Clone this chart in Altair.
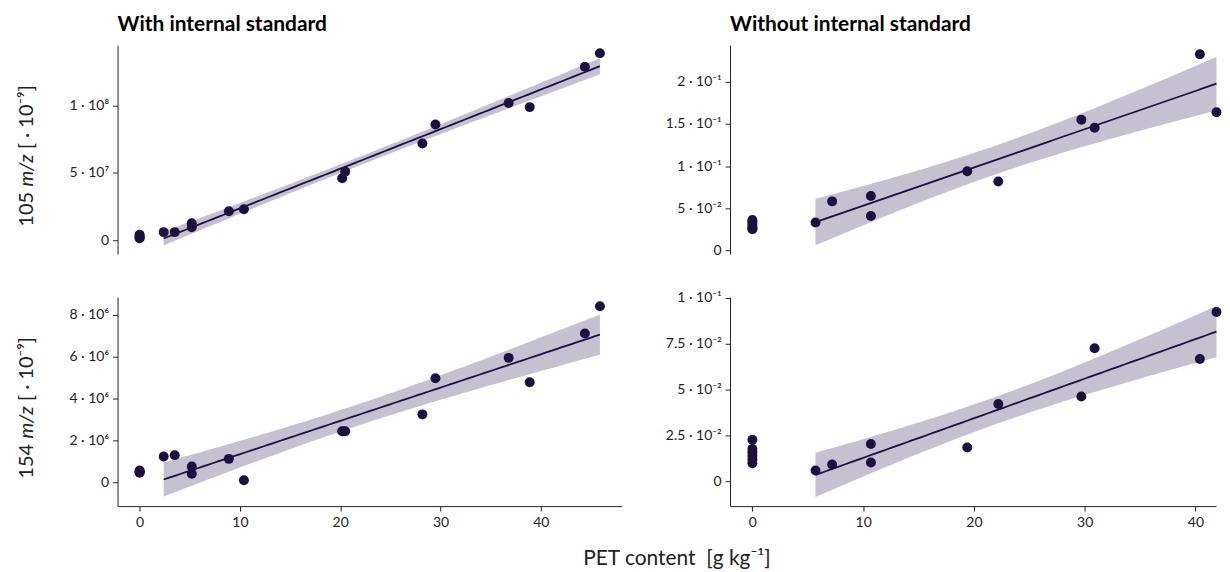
import altair as alt
import numpy as np
import pandas as pd

FONT = "Lato"
INK = "#1c1040"
BAND = "#c5c1d1"
AXIS = "#222222"

# ---- data ----
left_x = [0, 0, 0, 0, 2.4, 3.5, 5.2, 5.2, 8.9, 10.4, 20.2, 20.5, 28.2, 29.5, 36.8, 38.9, 44.4, 45.9]
with_is_105 = [4.0e6, 3.0e6, 2.0e6, 1.5e6, 6.0e6, 6.0e6, 1.26e7, 9.6e6, 2.15e7, 2.3e7,
               4.6e7, 5.1e7, 7.2e7, 8.6e7, 1.02e8, 9.9e7, 1.29e8, 1.39e8]
with_is_154 = [5.8e5, 5.2e5, 4.7e5, 5.0e5, 1.24e6, 1.30e6, 7.7e5, 4.2e5, 1.13e6, 1.1e5,
               2.45e6, 2.45e6, 3.25e6, 4.97e6, 5.94e6, 4.78e6, 7.10e6, 8.40e6]

right_x = [0, 0, 0, 0, 0, 0, 5.7, 7.2, 10.7, 10.7, 19.4, 22.2, 29.7, 30.9, 40.4, 41.9]
without_is_105 = [0.036, 0.034, 0.031, 0.028, 0.026, 0.025, 0.0328, 0.058, 0.0643, 0.0406,
                  0.0939, 0.0817, 0.155, 0.1456, 0.2328, 0.164]
without_is_154 = [0.0227, 0.0177, 0.0158, 0.0140, 0.0119, 0.0099, 0.0059, 0.0092, 0.0204, 0.0103,
                  0.0184, 0.0422, 0.0463, 0.0726, 0.0667, 0.0923]

NB = "\u00a0"
panel_titles = ["With internal standard", "Without internal standard"]
y_title_105 = ["105", "m/z", "[" + NB + "·" + NB + "10⁻⁹]"]
y_title_154 = ["154", "m/z", "[" + NB + "·" + NB + "10⁻⁹]"]
x_title = "PET content" + NB + NB + "[g" + NB + "kg⁻¹]"

x_ticks = [0, 10, 20, 30, 40]
tl_ticks = [0, 5e7, 1e8]
tl_labels = ["0", "5 · 10⁷", "1 · 10⁸"]
bl_ticks = [0, 2e6, 4e6, 6e6, 8e6]
bl_labels = ["0", "2 · 10⁶", "4 · 10⁶", "6 · 10⁶", "8 · 10⁶"]
tr_ticks = [0, 0.05, 0.1, 0.15, 0.2]
tr_labels = ["0", "5 · 10⁻²", "1 · 10⁻¹", "1.5 · 10⁻¹", "2 · 10⁻¹"]
br_ticks = [0, 0.025, 0.05, 0.075, 0.1]
br_labels = ["0", "2.5 · 10⁻²", "5 · 10⁻²", "7.5 · 10⁻²", "1 · 10⁻¹"]

T95 = {6: 2.447, 7: 2.365, 8: 2.306, 9: 2.262, 10: 2.228, 11: 2.201, 12: 2.179,
       13: 2.160, 14: 2.145, 15: 2.131, 16: 2.120}


def fit_band(x, y, n_pts=80):
    x = np.asarray(x, dtype=float)
    y = np.asarray(y, dtype=float)
    m = x > 0
    xf, yf = x[m], y[m]
    n = len(xf)
    b, a = np.polyfit(xf, yf, 1)
    res = yf - (a + b * xf)
    s = np.sqrt((res ** 2).sum() / (n - 2))
    sxx = ((xf - xf.mean()) ** 2).sum()
    gx = np.linspace(xf.min(), xf.max(), n_pts)
    yh = a + b * gx
    se = s * np.sqrt(1.0 / n + (gx - xf.mean()) ** 2 / sxx)
    t = T95.get(n - 2, 2.0)
    return pd.DataFrame({"x": gx, "fit": yh, "lo": yh - t * se, "hi": yh + t * se})


def label_expr(vals, labs):
    parts = []
    for v, l in zip(vals, labs):
        tol = abs(v) * 1e-6 + 1e-12
        parts.append(f"abs(datum.value - ({v!r})) < {tol!r} ? '{l}'")
    return " : ".join(parts) + " : ''"


def panel(x, y, xdom, ydom, w, h, ticks, labels, title=None, show_x=False, ytitle=None):
    pts = pd.DataFrame({"x": x, "y": y})
    band = fit_band(x, y)
    xaxis = (alt.Axis(values=x_ticks, title=None, grid=False, labelFontSize=14, tickSize=5,
                      labelPadding=4, domainColor=AXIS, tickColor=AXIS, labelColor=AXIS, labelFont=FONT)
             if show_x else None)
    xenc = alt.X("x:Q", scale=alt.Scale(domain=xdom, nice=False, zero=False), axis=xaxis)
    yaxis = alt.Axis(values=ticks, labelExpr=label_expr(ticks, labels), title=None, grid=False,
                     labelFontSize=14, tickSize=5, labelPadding=4, domainColor=AXIS, tickColor=AXIS,
                     labelColor=AXIS, labelFont=FONT)
    yscale = alt.Scale(domain=ydom, nice=False, zero=False)

    area = alt.Chart(band).mark_area(color=BAND, opacity=1).encode(
        x=xenc, y=alt.Y("lo:Q", scale=yscale, axis=yaxis), y2="hi:Q")
    line = alt.Chart(band).mark_line(color=INK, strokeWidth=1.8).encode(
        x="x:Q", y="fit:Q")
    dots = alt.Chart(pts).mark_circle(color=INK, opacity=1, size=100).encode(
        x="x:Q", y="y:Q")
    layers = [area, line, dots]

    if ytitle is not None:
        fs = 20
        w_mid = 33.0
        gap = 5.0
        w_first = 34.0 + gap
        w_last = 76.0 + gap
        yc = h / 2 + (w_last - w_first) / 2
        xpos = -91
        one = pd.DataFrame({"t": [0]})
        t1 = alt.Chart(one).mark_text(text=ytitle[0], angle=270, align="right", baseline="middle",
                                      font=FONT, fontSize=fs, color=AXIS).encode(
            x=alt.value(xpos), y=alt.value(yc + w_mid / 2 + gap))
        t2 = alt.Chart(one).mark_text(text=ytitle[1], angle=270, align="center", baseline="middle",
                                      font=FONT, fontSize=fs, fontStyle="italic", color=AXIS).encode(
            x=alt.value(xpos), y=alt.value(yc))
        t3 = alt.Chart(one).mark_text(text=ytitle[2], angle=270, align="left", baseline="middle",
                                      font=FONT, fontSize=fs, color=AXIS).encode(
            x=alt.value(xpos), y=alt.value(yc - w_mid / 2 - gap))
        layers += [t1, t2, t3]

    ch = alt.layer(*layers).properties(width=w, height=h)
    if title is not None:
        ch = ch.properties(title=alt.TitleParams(title, anchor="start", frame="group", fontSize=21,
                                                  fontWeight="bold", font=FONT, color="#000000",
                                                  offset=10))
    return ch


LW, RW, H = 506, 488, 210
lxdom = [-2.2, 48.05]
rxdom = [-2.02, 41.86]

tl = panel(left_x, with_is_105, lxdom, [-1.04e7, 1.452e8], LW, H, tl_ticks, tl_labels,
           title=panel_titles[0], ytitle=y_title_105)
tr = panel(right_x, without_is_105, rxdom, [-0.0047, 0.2438], RW, H, tr_ticks, tr_labels,
           title=panel_titles[1])
bl = panel(left_x, with_is_154, lxdom, [-1.12e6, 8.84e6], LW, H, bl_ticks, bl_labels,
           show_x=True, ytitle=y_title_154)
br = panel(right_x, without_is_154, rxdom, [-0.0135, 0.1005], RW, H, br_ticks, br_labels,
           show_x=True)

chart = alt.vconcat(
    alt.hconcat(tl, tr, spacing=44),
    alt.hconcat(bl, br, spacing=44),
    spacing=32,
).properties(
    title=alt.TitleParams(x_title, orient="bottom", anchor="middle", fontSize=21, fontWeight="normal",
                          font=FONT, color=AXIS, offset=19, dx=58),
    padding={"left": 9, "top": 5, "right": 0, "bottom": 5},
).configure(background="white", view=alt.ViewConfig(stroke=None))

chart.save("out.html", embed_options={"renderer": "svg", "actions": False})
